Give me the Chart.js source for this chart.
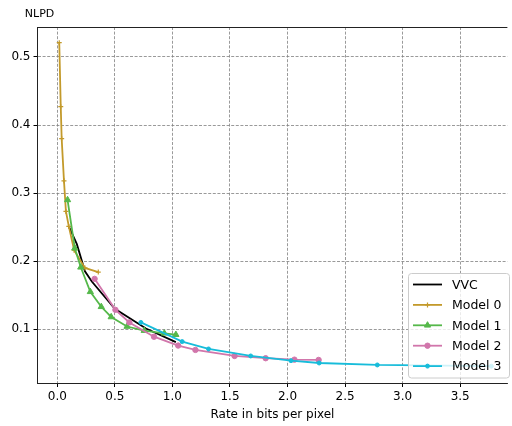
<!DOCTYPE html>
<html><head><meta charset="utf-8">
<script src="https://cdn.jsdelivr.net/npm/chart.js@4/dist/chart.umd.min.js"></script>
<style>html,body{margin:0;padding:0;background:#fff}#wrap{width:512px;height:426px}</style>
</head><body><div id="wrap"><canvas id="c" width="512" height="426"></canvas></div>
<script>
const yLabel = "NLPD";
const xLabel = "Rate in bits per pixel";
const seriesNames = ["VVC", "Model 0", "Model 1", "Model 2", "Model 3"];
const xTicks = [0.0, 0.5, 1.0, 1.5, 2.0, 2.5, 3.0, 3.5];
const yTicks = [0.1, 0.2, 0.3, 0.4, 0.5];

const vvcX = [0.10, 0.17, 0.24, 0.30, 0.50, 0.77, 1.03];
const vvcY = [0.251, 0.225, 0.185, 0.170, 0.130, 0.101, 0.081];

const m0X = [0.017, 0.030, 0.038, 0.058, 0.075, 0.100, 0.146, 0.240, 0.356];
const m0Y = [0.521, 0.427, 0.380, 0.318, 0.273, 0.251, 0.216, 0.190, 0.184];

const m1X = [0.089, 0.152, 0.204, 0.287, 0.382, 0.468, 0.606, 0.755, 0.930, 1.030];
const m1Y = [0.290, 0.219, 0.191, 0.155, 0.133, 0.118, 0.104, 0.098, 0.094, 0.092];

const m2X = [0.324, 0.505, 0.626, 0.840, 1.050, 1.200, 1.540, 1.810, 2.060, 2.270];
const m2Y = [0.174, 0.1285, 0.110, 0.089, 0.076, 0.0696, 0.0607, 0.0574, 0.0553, 0.0549];

const m3X = [0.726, 1.085, 1.314, 1.680, 2.030, 2.275, 2.780, 3.770];
const m3Y = [0.110, 0.0818, 0.071, 0.0607, 0.0538, 0.0504, 0.0475, 0.0457];

const colors = ["#000000", "#C39A2B", "#55B84A", "#D176AB", "#17BCDA"];
const styles = [
  {pointStyle: false, radius: 0},
  {pointStyle: "cross", radius: 2.5},
  {pointStyle: "triangle", radius: 3.6},
  {pointStyle: "circle", radius: 2.7},
  {pointStyle: "circle", radius: 2}
];

const xs = [vvcX, m0X, m1X, m2X, m3X];
const ys = [vvcY, m0Y, m1Y, m2Y, m3Y];

const datasets = seriesNames.map((name, i) => ({
  label: name,
  data: xs[i].map((x, j) => ({x: x, y: ys[i][j]})),
  borderColor: colors[i],
  backgroundColor: colors[i],
  borderWidth: 1.8,
  pointStyle: styles[i].pointStyle,
  pointRadius: styles[i].radius,
  pointBorderWidth: i === 1 ? 1.2 : 1,
  pointHoverRadius: styles[i].radius,
  tension: 0,
  fill: false,
  order: 5 - i
}));

const FONT = "'DejaVu Sans', sans-serif";

const extras = {
  id: "extras",
  afterDraw(chart) {
    const ctx = chart.ctx;
    const a = chart.chartArea;
    ctx.save();
    // top spine
    ctx.strokeStyle = "#222";
    ctx.lineWidth = 1;
    ctx.beginPath();
    ctx.moveTo(a.left, a.top + 0.5);
    ctx.lineTo(a.right, a.top + 0.5);
    ctx.stroke();
    // y label at top
    ctx.fillStyle = "#000";
    ctx.font = "11px " + FONT;
    ctx.textAlign = "center";
    ctx.textBaseline = "middle";
    ctx.fillText(yLabel, a.left + 2, 14);
    // legend
    const bx = 408.5, by = 273.5, bw = 101, bh = 104.5;
    ctx.fillStyle = "rgba(255,255,255,0.8)";
    ctx.strokeStyle = "#cccccc";
    ctx.lineWidth = 1;
    ctx.beginPath();
    ctx.roundRect(bx, by, bw, bh, 3);
    ctx.fill();
    ctx.stroke();
    ctx.font = "12.5px " + FONT;
    ctx.textAlign = "left";
    seriesNames.forEach((name, i) => {
      const yy = 284.5 + i * 20.4;
      ctx.strokeStyle = colors[i];
      ctx.fillStyle = colors[i];
      ctx.lineWidth = 1.8;
      ctx.beginPath();
      ctx.moveTo(413, yy);
      ctx.lineTo(442, yy);
      ctx.stroke();
      if (styles[i].pointStyle) {
        ctx.lineWidth = i === 1 ? 1.2 : 1;
        Chart.helpers.drawPoint(ctx, {
          pointStyle: styles[i].pointStyle,
          radius: styles[i].radius,
          borderWidth: i === 1 ? 1.2 : 1,
          rotation: 0
        }, 427.5, yy);
      }
      ctx.fillStyle = "#000";
      ctx.fillText(name, 452, yy + 1);
    });
    ctx.restore();
  }
};

new Chart(document.getElementById("c"), {
  type: "line",
  data: {datasets: datasets},
  plugins: [extras],
  options: {
    responsive: false,
    animation: false,
    devicePixelRatio: 1,
    layout: {padding: {top: 27, right: 0, left: 0, bottom: 0}},
    plugins: {legend: {display: false}, tooltip: {enabled: false}},
    scales: {
      x: {
        type: "linear",
        min: -0.172,
        max: 3.91,
        afterBuildTicks: s => { s.ticks = xTicks.map(v => ({value: v})); },
        afterFit: s => { s.height = 43; },
        ticks: {
          color: "#000", font: {family: FONT, size: 12}, padding: 3,
          callback: v => Number(v).toFixed(1), maxRotation: 0
        },
        grid: {color: "#808080", lineWidth: 0.8, tickLength: 4, tickColor: "#000", tickWidth: 1},
        border: {display: true, color: "#222", width: 1, dash: [3, 1.6]},
        title: {display: true, text: xLabel, color: "#000", font: {family: FONT, size: 12}, padding: {top: 2, bottom: 4}}
      },
      y: {
        type: "linear",
        min: 0.021,
        max: 0.544,
        afterBuildTicks: s => { s.ticks = yTicks.map(v => ({value: v})); },
        afterFit: s => { s.width = 37.5; },
        ticks: {
          color: "#000", font: {family: FONT, size: 12}, padding: 3,
          callback: v => Number(v).toFixed(1)
        },
        grid: {color: "#808080", lineWidth: 0.8, tickLength: 4, tickColor: "#000", tickWidth: 1},
        border: {display: true, color: "#222", width: 1, dash: [3, 1.6]}
      }
    }
  }
});
</script></body></html>
